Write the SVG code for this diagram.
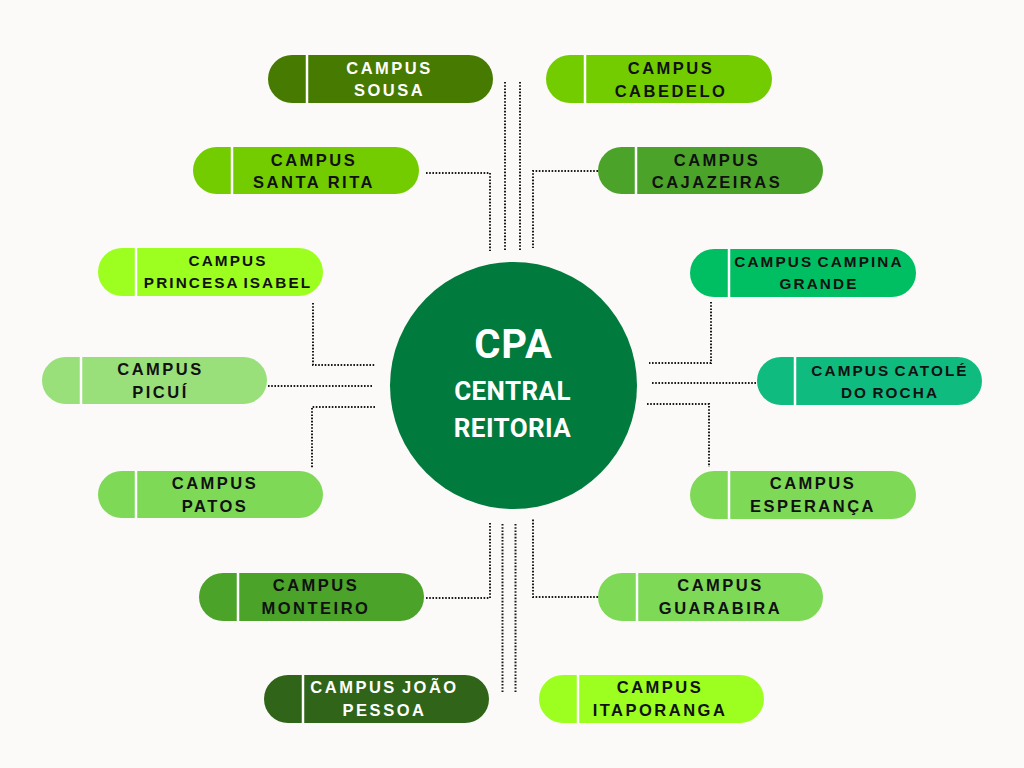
<svg xmlns="http://www.w3.org/2000/svg" width="1024" height="768" viewBox="0 0 1024 768">
<style>
.bg{fill:#FBFAF8}
.div{stroke:#FFFFFF;stroke-width:2.5}
.t{font-family:"Liberation Sans",Arial,sans-serif;font-weight:bold;font-size:16.5px;letter-spacing:2.5px;text-anchor:middle;fill:#111111}
.s{font-size:15.3px;letter-spacing:2.1px;word-spacing:-2px}
.tw{fill:#FFFFFF}
.c{font-family:Roboto,"Liberation Sans",sans-serif;font-weight:bold;fill:#FFFFFF;text-anchor:middle}
#connectors path{fill:none;stroke:#1A1A1A;stroke-width:2;stroke-dasharray:1.6 1.6}
</style>
<rect class="bg" x="0" y="0" width="1024" height="768"/>
<g id="connectors">
<path d="M426 173 H490 V251"/>
<path d="M505 82 V251"/>
<path d="M520 82 V251"/>
<path d="M598 171 H533 V248"/>
<path d="M313 303 V365 H375"/>
<path d="M268 386 H372"/>
<path d="M375 407 H312 V468"/>
<path d="M711 302 V363 H649"/>
<path d="M652 383 H757"/>
<path d="M647 404 H709 V467"/>
<path d="M426 598 H490 V523"/>
<path d="M502.5 524 V693"/>
<path d="M515.5 524 V693"/>
<path d="M598 597 H533 V519"/>
</g>
<g id="center">
<circle cx="513.5" cy="385.5" r="123.5" fill="#007A3D"/>
<text class="c" x="513.5" y="358" font-size="40" letter-spacing="1">CPA</text>
<text class="c" x="512.5" y="400" font-size="26" letter-spacing="0.4">CENTRAL</text>
<text class="c" x="512.5" y="437" font-size="26" letter-spacing="0.4">REITORIA</text>
</g>
<g id="sousa">
<rect x="268" y="55" width="225" height="48" rx="24" fill="#467A00"/>
<line class="div" x1="307" y1="55" x2="307" y2="103"/>
<text class="t tw" x="389.5" y="73.5">CAMPUS</text>
<text class="t tw" x="389.5" y="96">SOUSA</text>
</g>
<g id="cabedelo">
<rect x="546" y="55" width="226" height="48" rx="24" fill="#73CC00"/>
<line class="div" x1="585" y1="55" x2="585" y2="103"/>
<text class="t" x="671" y="74">CAMPUS</text>
<text class="t" x="671" y="96.5" letter-spacing="2.2">CABEDELO</text>
</g>
<g id="santa-rita">
<rect x="193" y="147" width="226" height="47" rx="23.5" fill="#73CC00"/>
<line class="div" x1="232" y1="147" x2="232" y2="194"/>
<text class="t" x="314" y="165.5">CAMPUS</text>
<text class="t" x="314" y="188">SANTA RITA</text>
</g>
<g id="cajazeiras">
<rect x="598" y="147" width="225" height="47" rx="23.5" fill="#4BA32A"/>
<line class="div" x1="636" y1="147" x2="636" y2="194"/>
<text class="t" x="717" y="165.5">CAMPUS</text>
<text class="t" x="717" y="188">CAJAZEIRAS</text>
</g>
<g id="princesa-isabel">
<rect x="98" y="248" width="225" height="48" rx="24" fill="#9CFF1F"/>
<line class="div" x1="136" y1="248" x2="136" y2="296"/>
<text class="t s" x="228" y="266">CAMPUS</text>
<text class="t s" x="228" y="288">PRINCESA ISABEL</text>
</g>
<g id="campina-grande">
<rect x="690" y="249" width="226" height="48" rx="24" fill="#00BF63"/>
<line class="div" x1="729" y1="249" x2="729" y2="297"/>
<text class="t s" x="819" y="267" word-spacing="-1">CAMPUS CAMPINA</text>
<text class="t s" x="819" y="289">GRANDE</text>
</g>
<g id="picui">
<rect x="42" y="357" width="225" height="47" rx="23.5" fill="#99E07B"/>
<line class="div" x1="81" y1="357" x2="81" y2="404"/>
<text class="t" x="160.5" y="375">CAMPUS</text>
<text class="t" x="160.5" y="397.5">PICUÍ</text>
</g>
<g id="catole-do-rocha">
<rect x="757" y="357" width="225" height="48" rx="24" fill="#10BB80"/>
<line class="div" x1="795" y1="357" x2="795" y2="405"/>
<text class="t s" x="890" y="375.5">CAMPUS CATOLÉ</text>
<text class="t s" x="890" y="397.5">DO ROCHA</text>
</g>
<g id="patos">
<rect x="98" y="471" width="225" height="47" rx="23.5" fill="#7ED957"/>
<line class="div" x1="136" y1="471" x2="136" y2="518"/>
<text class="t" x="215" y="489">CAMPUS</text>
<text class="t" x="215" y="511.5">PATOS</text>
</g>
<g id="esperanca">
<rect x="690" y="471" width="226" height="48" rx="24" fill="#7ED957"/>
<line class="div" x1="729" y1="471" x2="729" y2="519"/>
<text class="t" x="813" y="489">CAMPUS</text>
<text class="t" x="813" y="511.5">ESPERANÇA</text>
</g>
<g id="monteiro">
<rect x="199" y="573" width="225" height="48" rx="24" fill="#4BA32A"/>
<line class="div" x1="238" y1="573" x2="238" y2="621"/>
<text class="t" x="316" y="591">CAMPUS</text>
<text class="t" x="316" y="613.5">MONTEIRO</text>
</g>
<g id="guarabira">
<rect x="598" y="573" width="225" height="48" rx="24" fill="#7ED957"/>
<line class="div" x1="637" y1="573" x2="637" y2="621"/>
<text class="t" x="720.5" y="591">CAMPUS</text>
<text class="t" x="720.5" y="613.5">GUARABIRA</text>
</g>
<g id="joao-pessoa">
<rect x="264" y="675" width="225" height="48" rx="24" fill="#2F6419"/>
<line class="div" x1="303" y1="675" x2="303" y2="723"/>
<text class="t tw" x="384.5" y="693" word-spacing="-2">CAMPUS JOÃO</text>
<text class="t tw" x="384.5" y="715.5">PESSOA</text>
</g>
<g id="itaporanga">
<rect x="539" y="675" width="225" height="48" rx="24" fill="#9CFF1F"/>
<line class="div" x1="578" y1="675" x2="578" y2="723"/>
<text class="t" x="660" y="693">CAMPUS</text>
<text class="t" x="660" y="715.5">ITAPORANGA</text>
</g>
</svg>
